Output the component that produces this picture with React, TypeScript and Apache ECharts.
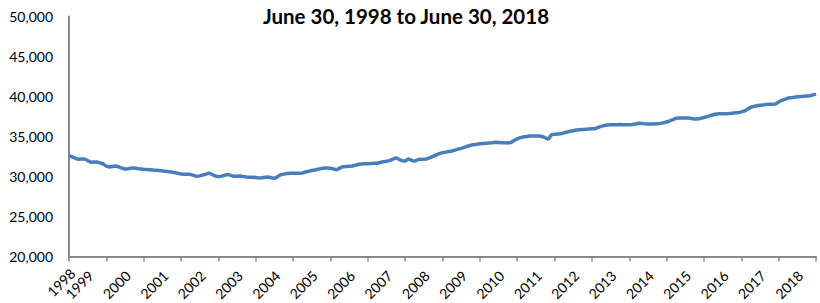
import React, { useEffect, useRef } from "react";
import * as echarts from "echarts";

// Tick labels (fiscal year ends, June 30)
const yearLabels = [
  "1998", "1999", "2000", "2001", "2002", "2003", "2004", "2005", "2006", "2007", "2008",
  "2009", "2010", "2011", "2012", "2013", "2014", "2015", "2016", "2017", "2018",
];
const monthNames = ["Jun", "Jul", "Aug", "Sep", "Oct", "Nov", "Dec", "Jan", "Feb", "Mar", "Apr", "May"];

// Monthly values, each block starting at June of the labelled year
const m1998 = [32600, 32450, 32300, 32150, 32200, 32190, 32000, 31780, 31800, 31820, 31700, 31560];
const m1999 = [31300, 31190, 31250, 31310, 31200, 31050, 30940, 30980, 31050, 31060, 31000, 30950];
const m2000 = [30900, 30880, 30850, 30810, 30780, 30740, 30700, 30650, 30600, 30550, 30480, 30400];
const m2001 = [30300, 30270, 30280, 30270, 30150, 30020, 30080, 30190, 30300, 30420, 30250, 30060];
const m2002 = [29980, 30050, 30150, 30270, 30150, 30020, 30040, 30060, 30000, 29950, 29920, 29900];
const m2003 = [29870, 29810, 29850, 29900, 29940, 29850, 29770, 29950, 30230, 30300, 30380, 30400];
const m2004 = [30400, 30420, 30400, 30450, 30560, 30650, 30750, 30810, 30900, 30980, 31060, 31060];
const m2005 = [31020, 30930, 30850, 31050, 31230, 31260, 31290, 31310, 31400, 31530, 31560, 31580];
const m2006 = [31600, 31620, 31650, 31650, 31750, 31850, 31900, 31980, 32150, 32350, 32150, 31980];
const m2007 = [31940, 32190, 32050, 31900, 32100, 32150, 32170, 32190, 32350, 32520, 32700, 32850];
const m2008 = [32980, 33050, 33120, 33190, 33300, 33420, 33520, 33650, 33780, 33900, 33970, 34030];
const m2009 = [34100, 34130, 34160, 34190, 34220, 34270, 34260, 34230, 34220, 34200, 34250, 34500];
const m2010 = [34700, 34850, 34950, 35000, 35060, 35060, 35070, 35060, 35000, 34850, 34650, 35230];
const m2011 = [35270, 35310, 35350, 35450, 35560, 35650, 35720, 35810, 35850, 35880, 35900, 35930];
const m2012 = [35960, 35980, 36150, 36270, 36380, 36440, 36460, 36470, 36480, 36490, 36480, 36470];
const m2013 = [36480, 36500, 36560, 36650, 36620, 36580, 36560, 36560, 36570, 36580, 36640, 36720];
const m2014 = [36810, 36950, 37100, 37270, 37300, 37310, 37300, 37310, 37250, 37200, 37190, 37280];
const m2015 = [37380, 37480, 37600, 37720, 37810, 37830, 37840, 37850, 37880, 37920, 37960, 37980];
const m2016 = [38080, 38190, 38400, 38650, 38750, 38850, 38900, 38950, 39000, 39020, 39040, 39060];
const m2017 = [39300, 39520, 39650, 39800, 39850, 39900, 39970, 40000, 40030, 40070, 40100, 40200];
const m2018 = [40300];

const seriesValues = [
  ...m1998, ...m1999, ...m2000, ...m2001, ...m2002, ...m2003, ...m2004, ...m2005, ...m2006,
  ...m2007, ...m2008, ...m2009, ...m2010, ...m2011, ...m2012, ...m2013, ...m2014, ...m2015,
  ...m2016, ...m2017, ...m2018,
];

const yTicks = [20000, 25000, 30000, 35000, 40000, 45000, 50000];
const titleText = "June 30, 1998 to June 30, 2018";

export default function App() {
  const ref = useRef<HTMLDivElement>(null);

  useEffect(() => {
    document.body.style.margin = "0";
    if (!ref.current) return;
    const chart = echarts.init(ref.current, null, { renderer: "svg", width: 820, height: 303 });

    const categories: string[] = [];
    seriesValues.forEach((_, i) => {
      const startYear = parseInt(yearLabels[0], 10);
      const monthOffset = i % 12;
      const yearOffset = Math.floor(i / 12);
      const calYear = startYear + yearOffset + (monthOffset >= 7 ? 1 : 0);
      categories.push(monthNames[monthOffset] + " " + calYear);
    });

    const font = "Lato, 'Open Sans', sans-serif";

    chart.setOption({
      animation: false,
      backgroundColor: "#ffffff",
      title: {
        text: titleText,
        left: 401,
        top: 0,
        textAlign: "center",
        textStyle: { fontFamily: font, fontWeight: "bold", fontSize: 20.5, color: "#000000" },
      },
      grid: {
        left: 69,
        right: 4,
        top: 16.5,
        bottom: 46.5,
        containLabel: false,
        outerBoundsMode: "none",
      },
      xAxis: {
        type: "category",
        data: categories,
        boundaryGap: false,
        axisLine: { lineStyle: { color: "#8a8a8a", width: 2 } },
        axisTick: { show: true, interval: 11, length: 5, lineStyle: { color: "#8a8a8a", width: 1.5 } },
        axisLabel: {
          interval: 11,
          rotate: 45,
          margin: 1,
          align: "right",
          verticalAlign: "middle",
          hideOverlap: false,
          formatter: (value: string, index: number) => {
            const yr = yearLabels[Math.round(index / 12)];
            return index === 0 ? "{b|" + yr + "}" : "{a|" + yr + "}";
          },
          rich: {
            a: { fontFamily: font, fontSize: 14, color: "#000000", padding: [0, 22, 0, 0] },
            b: { fontFamily: font, fontSize: 14, color: "#000000", padding: [24, 7, 0, 0] },
          },
        },
        splitLine: { show: false },
      },
      yAxis: {
        type: "value",
        min: yTicks[0],
        max: yTicks[yTicks.length - 1],
        interval: 5000,
        axisLine: { show: true, lineStyle: { color: "#8a8a8a", width: 2 } },
        axisTick: { show: false },
        splitLine: { show: false },
        axisLabel: {
          margin: 16,
          fontFamily: font,
          fontSize: 14,
          color: "#000000",
          formatter: (v: number) => v.toLocaleString("en-US"),
        },
      },
      series: [
        {
          type: "line",
          data: seriesValues,
          showSymbol: false,
          symbol: "none",
          lineStyle: { color: "#4a7ebb", width: 3.5 },
          itemStyle: { color: "#4a7ebb" },
        },
      ],
    });

    return () => chart.dispose();
  }, []);

  return <div ref={ref} style={{ width: 820, height: 303 }} />;
}
